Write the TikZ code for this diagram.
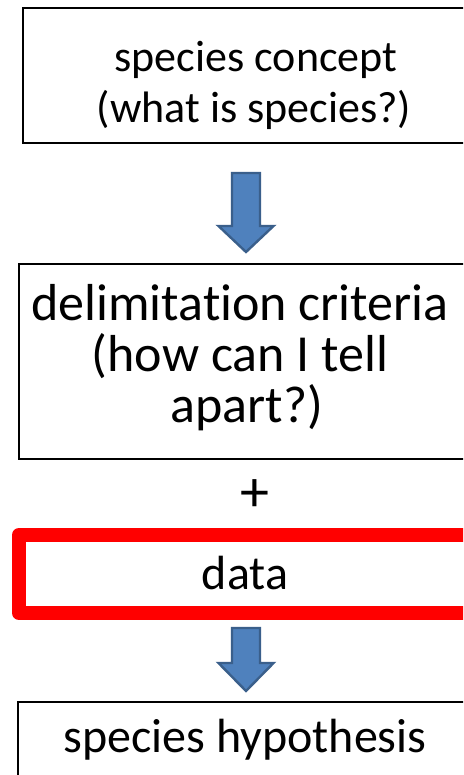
\documentclass[tikz,border=0pt]{standalone}
\usepackage{fontspec}
\setmainfont[RawFeature=-liga]{Carlito}
\definecolor{arrowfill}{HTML}{4F81BD}
\definecolor{arrowline}{HTML}{3A5F8B}
\definecolor{datared}{HTML}{FF0000}
\tikzset{
  plainbox/.style={draw=black, line width=2.2pt, fill=none, inner sep=0pt},
  databox/.style={draw=datared, line width=14pt, line join=round, inner sep=0pt},
  boxtext/.style={anchor=base, inner sep=0pt, font=\fontsize{48}{50}\selectfont},
  bigtext/.style={anchor=base, inner sep=0pt, font=\fontsize{52}{54}\selectfont},
  smalltext/.style={anchor=base, inner sep=0pt, font=\fontsize{44}{50}\selectfont},
  blockarrow/.style={draw=arrowline, fill=arrowfill, line width=2.4pt, line join=miter}
}
\newcommand{\myblockarrow}[4]{% name, top y, head y, tip y
  \coordinate (#1top) at (246,#2);
  \coordinate (#1tip) at (246,#4);
  \draw[blockarrow] (232,#2) -- (260,#2) -- (260,#3) -- (273.5,#3) -- (#1tip) -- (218.5,#3) -- (232,#3) -- cycle;
}
\begin{document}
\begin{tikzpicture}[x=1pt,y=-1pt]
\useasboundingbox (0,0) rectangle (463,775);
\clip (0,0) rectangle (463,775);
\fill[white] (0,0) rectangle (463,775);
% boxes
\node[plainbox, minimum width=464pt, minimum height=135pt] (concept) at (255,75.5) {};
\node[plainbox, minimum width=454pt, minimum height=195pt] (criteria) at (246,361.5) {};
\node[databox, minimum width=454pt, minimum height=78pt] (data) at (246,574) {};
\node[plainbox, minimum width=456pt, minimum height=148pt] (hypo) at (246,776) {};
% texts
\node[smalltext] (t1a) at (256,72) {species concept};
\node[smalltext] (t1b) at (254,123) {(what is species?)};
\node[bigtext] (t2a) at (240,320) {delimitation criteria};
\node[bigtext] (t2b) at (240,371) {(how can I tell};
\node[bigtext] (t2c) at (247,422) {apart?)};
\node[anchor=center, inner sep=0pt, font=\fontsize{58}{60}\selectfont] (plus) at (255,496) {+};
\node[boxtext] (t3) at (245,589) {data};
\node[boxtext] (t4) at (245,752) {species hypothesis};
% arrows
\myblockarrow{aone}{173}{226}{252}
\myblockarrow{atwo}{628}{663}{691}
\end{tikzpicture}
\end{document}
